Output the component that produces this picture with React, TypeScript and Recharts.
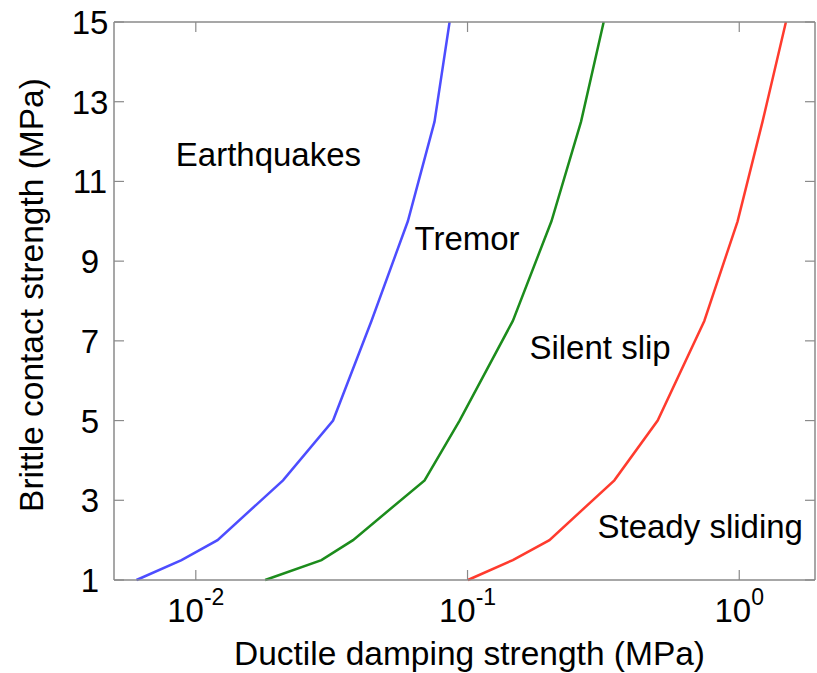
import { LineChart, Line, XAxis, YAxis, ReferenceDot } from 'recharts'

// y values shared by all three boundaries (brittle contact strength, MPa)
const brittleStrength = [1, 1.5, 2, 3.5, 5, 7.5, 10, 12.5, 15]

// ductile damping strength (MPa) along each boundary
const earthquakeTremor = [0.00605, 0.00886, 0.01202, 0.02094, 0.032, 0.0443, 0.0603, 0.0756, 0.0859]
const tremorSlip = [0.018, 0.029, 0.0379, 0.0695, 0.0935, 0.1468, 0.2036, 0.2617, 0.317]
const slipSliding = [0.1003, 0.1468, 0.2002, 0.347, 0.5009, 0.7436, 0.986, 1.218, 1.485]

const xTicks = [0.01, 0.1, 1]
const yTicks = [1, 3, 5, 7, 9, 11, 13, 15]

const regionNames = ['Earthquakes', 'Tremor', 'Silent slip', 'Steady sliding']
const regionX = [0.00844, 0.0638, 0.169, 0.3008]
const regionY = [11.39, 9.28, 6.55, 2.05]

const FONT = '"Liberation Sans", Arial, Helvetica, sans-serif'
const AXIS_GREY = '#8a8a8a'

const toRows = (xs: number[]) => xs.map((x, i) => ({ x, y: brittleStrength[i] }))

const curves = [
  { id: 'eq', rows: toRows(earthquakeTremor), color: '#4d4dff' },
  { id: 'tr', rows: toRows(tremorSlip), color: '#1c8c1c' },
  { id: 'ss', rows: toRows(slipSliding), color: '#ff3b2e' },
]

function XTick({ x, y, payload }: any) {
  const exp = Math.round(Math.log10(payload.value))
  return (
    <text x={x} y={y} textAnchor="middle" fontFamily={FONT} fontSize={33} fill="#000">
      <tspan>10</tspan>
      <tspan dy={-17} fontSize={23}>{exp}</tspan>
    </text>
  )
}

function YTick({ x, y, payload }: any) {
  return (
    <text x={x} y={y + 12} textAnchor="middle" fontFamily={FONT} fontSize={33} fill="#000">
      {payload.value}
    </text>
  )
}

// tick marks only, no labels (mirror axes on top and right)
const NoLabel = () => <g />

export default function App() {
  return (
    <div style={{ position: 'absolute', left: 0, top: 0, background: '#fff' }}>
      <LineChart width={817} height={673} margin={{ top: 21, right: 1, bottom: 0, left: 0 }}>
        <XAxis
          xAxisId="bottom"
          type="number"
          dataKey="x"
          scale="log"
          domain={[0.005, 1.9]}
          allowDataOverflow
          ticks={xTicks}
          height={93}
          tickSize={-10}
          tickMargin={52}
          tick={<XTick />}
          axisLine={{ stroke: AXIS_GREY, strokeWidth: 1.5 }}
          tickLine={{ stroke: AXIS_GREY, strokeWidth: 1.2 }}
          label={{
            content: ({ viewBox }: any) => (
              <text x={viewBox.x + viewBox.width / 2 + 5} y={viewBox.y + 85} textAnchor="middle" fontFamily={FONT} fontSize={33.5} fill="#000">
                Ductile damping strength (MPa)
              </text>
            ),
          }}
        />
        <XAxis
          xAxisId="top"
          orientation="top"
          type="number"
          dataKey="x"
          scale="log"
          domain={[0.005, 1.9]}
          allowDataOverflow
          ticks={xTicks}
          height={1}
          tickSize={-10}
          tick={<NoLabel />}
          axisLine={{ stroke: AXIS_GREY, strokeWidth: 1.5 }}
          tickLine={{ stroke: AXIS_GREY, strokeWidth: 1.2 }}
        />
        <YAxis
          yAxisId="left"
          type="number"
          dataKey="y"
          domain={[1, 15]}
          ticks={yTicks}
          width={114}
          tickSize={-10}
          tickMargin={34}
          tick={<YTick />}
          axisLine={{ stroke: AXIS_GREY, strokeWidth: 1.5 }}
          tickLine={{ stroke: AXIS_GREY, strokeWidth: 1.2 }}
          label={{
            content: () => (
              <text x={43} y={295} transform="rotate(-90, 43, 295)" textAnchor="middle" fontFamily={FONT} fontSize={33.5} fill="#000">
                Brittle contact strength (MPa)
              </text>
            ),
          }}
        />
        <YAxis
          yAxisId="right"
          orientation="right"
          type="number"
          dataKey="y"
          domain={[1, 15]}
          ticks={yTicks}
          width={1}
          tickSize={-10}
          tick={<NoLabel />}
          axisLine={{ stroke: AXIS_GREY, strokeWidth: 1.5 }}
          tickLine={{ stroke: AXIS_GREY, strokeWidth: 1.2 }}
        />
        {curves.map((c) => (
          <Line
            key={c.id}
            xAxisId="bottom"
            yAxisId="left"
            data={c.rows}
            dataKey="y"
            type="linear"
            stroke={c.color}
            strokeWidth={2.5}
            dot={false}
            activeDot={false}
            isAnimationActive={false}
          />
        ))}
        {/* invisible copy so the mirror axes get their own domain/ticks */}
        <Line
          xAxisId="top"
          yAxisId="right"
          data={curves[0].rows}
          dataKey="y"
          stroke="none"
          dot={false}
          activeDot={false}
          isAnimationActive={false}
        />
        {regionNames.map((name, i) => (
          <ReferenceDot
            key={name}
            xAxisId="bottom"
            yAxisId="left"
            x={regionX[i]}
            y={regionY[i]}
            r={0}
            shape={() => <g />}
            label={{
              content: ({ viewBox }: any) => (
                <text x={viewBox.x} y={viewBox.y} textAnchor="start" fontFamily={FONT} fontSize={33} fill="#000">
                  {name}
                </text>
              ),
            }}
          />
        ))}
      </LineChart>
    </div>
  )
}
